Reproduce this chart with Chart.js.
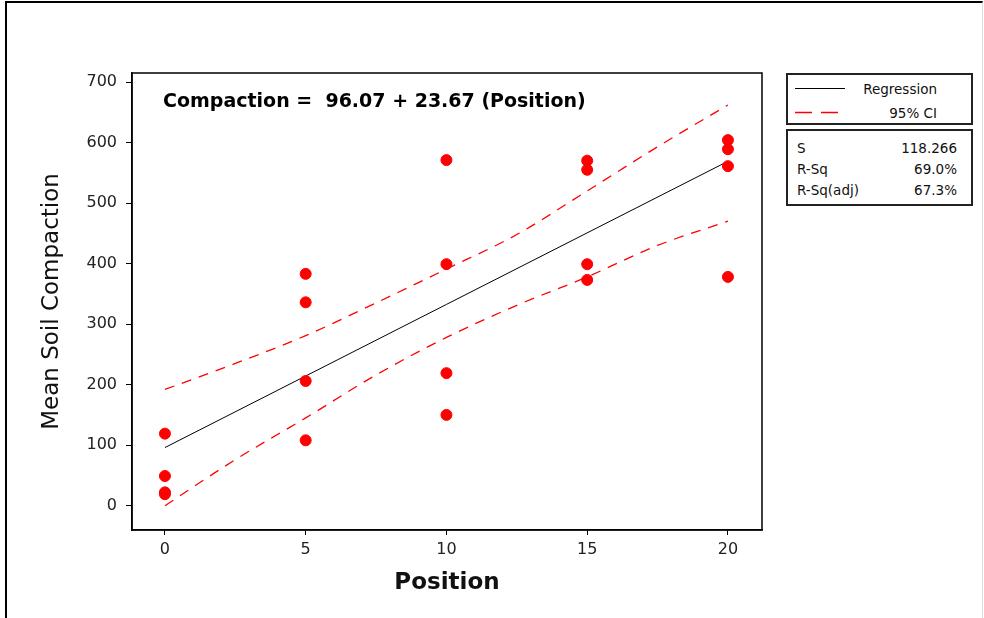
<!DOCTYPE html>
<html>
<head>
<meta charset="utf-8">
<script src="https://cdn.jsdelivr.net/npm/chart.js@4/dist/chart.umd.min.js"></script>
<style>
    body { margin: 0; background: #fff; font-family: "DejaVu Sans", sans-serif; }
    #wrap { position: relative; width: 984px; height: 618px; overflow: hidden; }
    #frame { position: absolute; left: 5px; top: 1px; width: 975px; height: 640px;
             border-left: 2px solid #000; border-top: 2px solid #000; border-right: 1px solid #ddd;
             pointer-events: none; }
    .box { position: absolute; left: 786px; width: 183px; border: 2px solid #222; background: #fff; font-size: 13.5px; color: #111; }
    .row { position: absolute; left: 9px; right: 14px; height: 20px; line-height: 20px; }
    .row span { position: absolute; }
</style>
</head>
<body>
<div id="wrap">
    <canvas id="fitChart" width="984" height="618"></canvas>
    <div id="frame"></div>

    <div class="box" style="top:73px; height:48px;">
        <svg width="60" height="48" style="position:absolute; left:5px; top:0;">
            <line x1="2" y1="13.5" x2="52" y2="13.5" stroke="#000" stroke-width="1"/>
            <line x1="2" y1="37.5" x2="52" y2="37.5" stroke="#ff0000" stroke-width="1.3" stroke-dasharray="17 9"/>
        </svg>
        <div class="row" style="top:4px;"><span style="right:20px;">Regression</span></div>
        <div class="row" style="top:28px;"><span style="right:20px;">95% CI</span></div>
    </div>

    <div class="box" style="top:129px; height:73px;">
        <div class="row" style="top:7px;"><span style="left:0">S</span><span style="right:0">118.266</span></div>
        <div class="row" style="top:28px;"><span style="left:0">R-Sq</span><span style="right:0">69.0%</span></div>
        <div class="row" style="top:49px;"><span style="left:0">R-Sq(adj)</span><span style="right:0">67.3%</span></div>
    </div>
</div>

<script>
// observations
const positions = [0, 0, 0, 0, 5, 5, 5, 5, 10, 10, 10, 10, 15, 15, 15, 15, 20, 20, 20, 20];
const compaction = [119, 49, 22, 19, 383, 336, 206, 108, 571, 399, 219, 150, 570, 555, 399, 373, 604, 589, 561, 378];

// fitted line and 95% CI band
const fitX = [0, 20];
const fitY = [96, 569];
const ciX = [0, 2.5, 5, 7.5, 10, 12.5, 15, 17.5, 20];
const ciUpper = [192, 235, 281, 335, 391, 448, 520, 593, 662];
const ciLower = [0, 76, 145, 216, 278, 331, 378, 430, 470];

const xTicks = [0, 5, 10, 15, 20];
const yTicks = [0, 100, 200, 300, 400, 500, 600, 700];
const equation = 'Compaction =  96.07 + 23.67 (Position)';

const toPoints = (xs, ys) => xs.map((x, i) => ({ x: x, y: ys[i] }));

// box around the plot + equation text
const boxPlugin = {
    id: 'boxPlugin',
    afterDatasetsDraw(chart) {
        const { ctx, chartArea } = chart;
        ctx.save();
        ctx.strokeStyle = '#000';
        ctx.lineWidth = 1.5;
        ctx.strokeRect(chartArea.left, chartArea.top, chartArea.right - chartArea.left, chartArea.bottom - chartArea.top);
        ctx.fillStyle = '#000';
        ctx.font = 'bold 19px "DejaVu Sans"';
        ctx.textBaseline = 'middle';
        ctx.fillText(equation, chartArea.left + 31, chartArea.top + 29);
        ctx.restore();
    }
};

const tickFont = { family: 'DejaVu Sans', size: 16 };

new Chart(document.getElementById('fitChart'), {
    type: 'scatter',
    data: {
        datasets: [
            {
                data: toPoints(positions, compaction),
                backgroundColor: '#ff0000',
                borderColor: '#ff0000',
                pointRadius: 5.5,
                pointHoverRadius: 5.5,
                showLine: false
            },
            {
                data: toPoints(fitX, fitY),
                borderColor: '#000',
                borderWidth: 1,
                pointRadius: 0,
                showLine: true
            },
            {
                data: toPoints(ciX, ciUpper),
                borderColor: '#ff0000',
                borderWidth: 1.3,
                borderDash: [10, 8],
                pointRadius: 0,
                showLine: true,
                cubicInterpolationMode: 'monotone'
            },
            {
                data: toPoints(ciX, ciLower),
                borderColor: '#ff0000',
                borderWidth: 1.3,
                borderDash: [10, 8],
                pointRadius: 0,
                showLine: true,
                cubicInterpolationMode: 'monotone'
            }
        ]
    },
    options: {
        responsive: false,
        animation: false,
        layout: { padding: { left: 10, top: 73, right: 222, bottom: 18 } },
        plugins: {
            legend: { display: false },
            tooltip: { enabled: false }
        },
        scales: {
            x: {
                min: -1.17,
                max: 21.21,
                afterBuildTicks: axis => { axis.ticks = xTicks.map(v => ({ value: v })); },
                afterFit: axis => { axis.height = 70; },
                grid: { drawOnChartArea: false, color: '#000', tickLength: 5 },
                border: { color: '#000', width: 1.5 },
                ticks: { color: '#222', font: tickFont, padding: 5, maxRotation: 0 },
                title: {
                    display: true,
                    text: 'Position',
                    color: '#111',
                    font: { family: 'DejaVu Sans', size: 23, weight: 'bold' },
                    padding: { top: 0, bottom: 3 }
                }
            },
            y: {
                min: -40.2,
                max: 714.9,
                afterBuildTicks: axis => { axis.ticks = yTicks.map(v => ({ value: v })); },
                afterFit: axis => { axis.width = 122; },
                grid: { drawOnChartArea: false, color: '#000', tickLength: 6 },
                border: { color: '#000', width: 1.5 },
                ticks: { color: '#222', font: tickFont, padding: 9 },
                title: {
                    display: true,
                    text: 'Mean Soil Compaction',
                    color: '#111',
                    font: { family: 'DejaVu Sans', size: 23 },
                    padding: { top: 28, bottom: 0 }
                }
            }
        }
    },
    plugins: [boxPlugin]
});
</script>
</body>
</html>
